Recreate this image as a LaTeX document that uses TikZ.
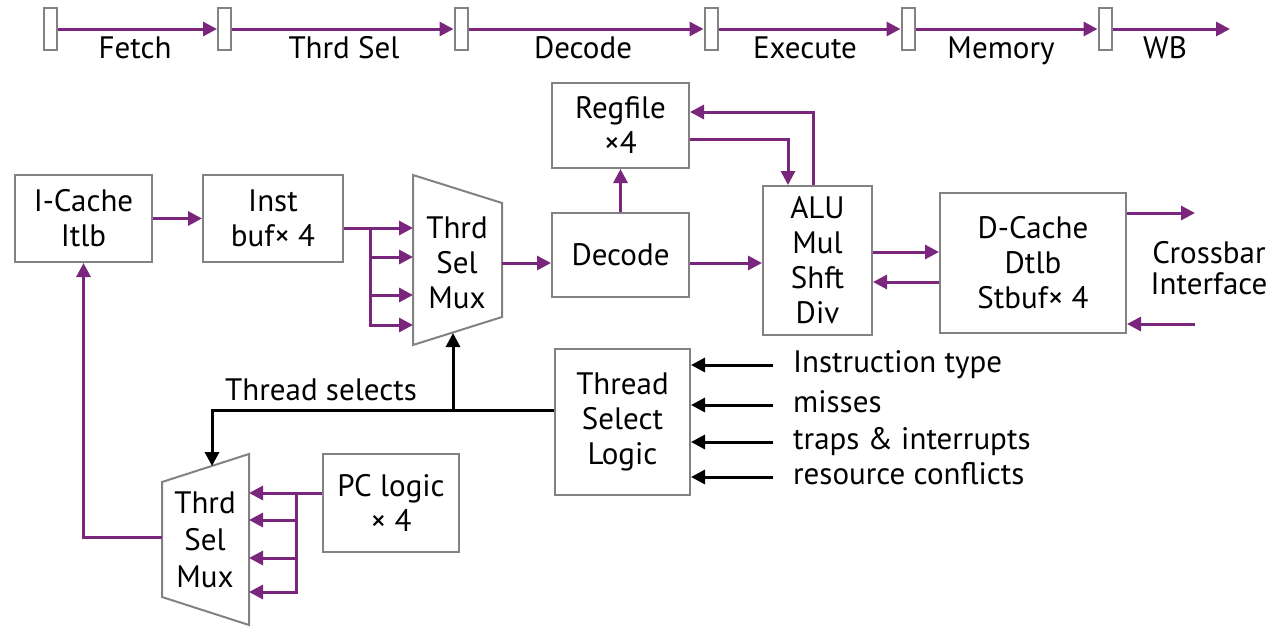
\documentclass[tikz,border=0pt]{standalone}
\usepackage{fontspec}
\setmainfont{PT Sans}
\usetikzlibrary{arrows.meta,positioning}

\definecolor{pipe}{RGB}{122,38,124}
\definecolor{frame}{RGB}{130,130,130}

\tikzset{
  txt/.style={font=\fontsize{31}{35}\selectfont, inner sep=0pt, align=center},
  blk/.style={txt, draw=frame, line width=2pt},
  reg/.style={draw=frame, line width=2pt, minimum width=13pt, minimum height=42pt, inner sep=0pt},
  wire/.style={draw=pipe, line width=3pt},
  sig/.style={wire, -{Triangle[length=14pt,width=14pt]}},
  ctl/.style={draw=black, line width=3pt, -{Triangle[length=14pt,width=14pt]}},
}

\begin{document}
\begin{tikzpicture}[x=1pt, y=-1pt, line join=miter]
  \useasboundingbox (0,0) rectangle (1283,627);

  % Pipeline stages
  \foreach \i/\x in {1/50.5, 2/224.5, 3/461, 4/711, 5/908, 6/1105}
    \node[reg] (r\i) at (\x,29) {};
  \coordinate (rEnd) at (1230,29);
  \foreach \i/\j in {1/2, 2/3, 3/4, 4/5, 5/6}
    \draw[sig] (r\i) -- (r\j);
  \draw[sig] (r6) -- (rEnd);
  \foreach \x/\t in {135/Fetch, 344/Thrd Sel, 583/Decode, 805/Execute, 1001/Memory, 1165/WB}
    \node[txt, anchor=base] at (\x,58) {\t};

  % Blocks
  \node[blk, minimum width=137pt, minimum height=87pt] (icache) at (83.5,218.5) {I-Cache\\Itlb};
  \node[blk, minimum width=140pt, minimum height=87pt] (instbuf) at (273,218.5) {Inst\\buf× 4};
  \node[blk, minimum width=137pt, minimum height=85pt] (regfile) at (620.5,125.5) {Regfile\\×4};
  \node[blk, minimum width=137pt, minimum height=84pt] (decode) at (620.5,255) {Decode};
  \node[blk, minimum width=109pt, minimum height=149pt] (alu) at (817.5,260.5) {ALU\\Mul\\Shft\\Div};
  \node[blk, minimum width=186pt, minimum height=140pt] (dcache) at (1033,263) {D-Cache\\Dtlb\\Stbuf× 4};
  \node[blk, minimum width=135pt, minimum height=146pt] (tsl) at (622.5,422) {Thread\\Select\\Logic};
  \node[blk, minimum width=136pt, minimum height=98pt] (pclogic) at (391,503) {PC logic\\× 4};

  % Muxes (trapezoids)
  \draw[frame, line width=2pt] (413,175) -- (502,203) -- (502,317) -- (413,345) -- cycle;
  \node[txt] (muxA) at (457,263) {Thrd\\Sel\\Mux};
  \draw[frame, line width=2pt] (162,482) -- (249,454) -- (249,625) -- (162,597) -- cycle;
  \node[txt, font=\fontsize{31}{37}\selectfont] (muxB) at (205,540) {Thrd\\Sel\\Mux};

  % Mux ports
  \foreach \i/\y in {1/228, 2/257, 3/295, 4/325}
    \coordinate (ma\i) at (413,\y);
  \coordinate (maOut) at (502,263);
  \coordinate (maSel) at (453,333);
  \foreach \i/\y in {1/493, 2/520, 3/558, 4/592}
    \coordinate (mb\i) at (249,\y);
  \coordinate (mbOut) at (162,537);
  \coordinate (mbSel) at (212,466);

  % Fetch path
  \draw[sig] (icache) -- (instbuf);
  \draw[sig] (instbuf.east |- ma1) -- (ma1);
  \coordinate (fanA) at (370,228);
  \foreach \i in {2,3,4}
    \draw[sig] (fanA) |- (ma\i);
  \draw[sig] (maOut) -- (maOut -| decode.west);
  \draw[sig] (decode) -- (regfile);
  \draw[sig] (decode.east |- maOut) -- (alu.west |- maOut);

  % Register file and execute
  \draw[sig] ([yshift=-13.5pt]regfile.east) -| ([xshift=-29.5pt]alu.north);
  \draw[sig] ([xshift=-4.5pt]alu.north) |- ([yshift=13.5pt]regfile.east);
  \draw[sig] ([yshift=8.5pt]alu.east) -- ([yshift=8.5pt]alu.east -| dcache.west);
  \draw[sig] ([yshift=-19pt]dcache.west) -- ([yshift=-19pt]dcache.west -| alu.east);

  % Crossbar
  \coordinate (xbOut) at (1195,213);
  \coordinate (xbIn) at (1195,324);
  \draw[sig] (dcache.east |- xbOut) -- (xbOut);
  \draw[sig] (xbIn) -- (xbIn -| dcache.east);
  \node[txt, font=\fontsize{31}{31}\selectfont] (xbar) at (1209,268) {Crossbar\\Interface};

  % Thread select inputs
  \foreach \n/\y/\t in {inA/365/Instruction type, inB/405/misses, inC/442/traps \& interrupts, inD/477/resource conflicts}{
    \node[txt, anchor=west, text height=22pt, text depth=7pt] (\n) at (793,\y) {\t};
    \draw[ctl] ([xshift=-20pt]\n.west) -- (\n.west -| tsl.east);
  }

  % Thread selects
  \coordinate (tsJoin) at (453,410);
  \draw[ctl] (tsl.west |- tsJoin) -| (mbSel);
  \draw[ctl] (tsJoin) -- (maSel);
  \node[txt, anchor=base] (tsLabel) at (321,400) {Thread selects};

  % PC logic
  \coordinate (fanB) at (296,493);
  \draw[sig] (pclogic.west |- mb1) -- (mb1);
  \foreach \i in {2,3,4}
    \draw[sig] (fanB) |- (mb\i);
  \draw[sig] (mbOut) -| (icache.south);
\end{tikzpicture}
\end{document}
